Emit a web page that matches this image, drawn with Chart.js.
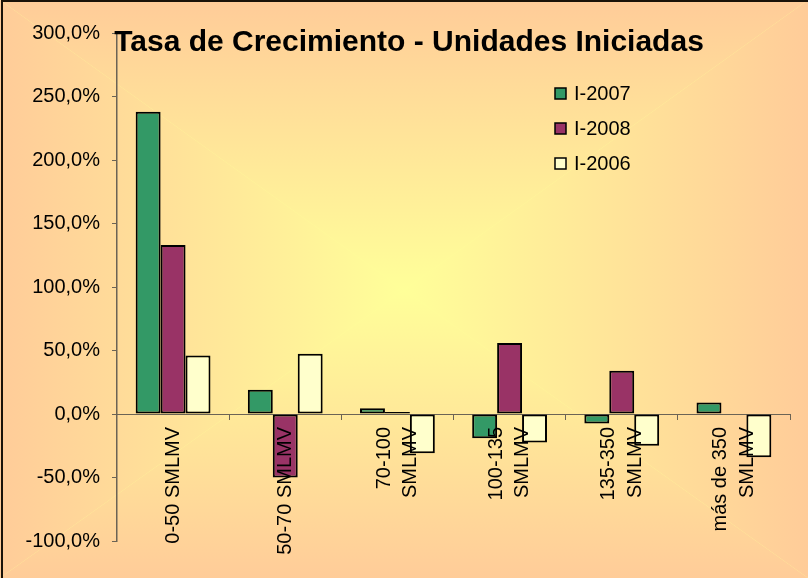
<!DOCTYPE html>
<html>
<head>
<meta charset="utf-8">
<script src="https://cdn.jsdelivr.net/npm/chart.js@4/dist/chart.umd.min.js"></script>
<style>
  html, body { margin: 0; padding: 0; background: #fff; }
</style>
</head>
<body>
<canvas id="chart" width="808" height="578"></canvas>
<script>
const categories = [
  '0-50 SMLMV',
  '50-70 SMLMV',
  ['70-100', 'SMLMV'],
  ['100-135', 'SMLMV'],
  ['135-350', 'SMLMV'],
  ['más de 350', 'SMLMV']
]
const seriesNames = ['I-2007', 'I-2008', 'I-2006']
const values2007 = [238, 19, 4.5, -19, -7.5, 9]
const values2008 = [133, -50, 1.5, 56, 34, null]
const values2006 = [46, 47.5, -31, -22.5, -25, -34]
const yTicks = { min: -100, max: 300, step: 50 }

const FONT = "'Liberation Sans', Arial, sans-serif"
const colors = ['#339966', '#993366', '#ffffcc']
const labelLineHeight = 1.33
const labelSize = 20

// Excel style "from center" gradient: four triangles meeting in the middle
const backgroundPlugin = {
  id: 'background',
  beforeDraw(chart) {
    const ctx = chart.ctx
    const W = chart.width
    const H = chart.height
    const cx = 404
    const cy = 290
    const edge = '#ffcc99'
    const mid = '#ffff99'
    ctx.save()
    ctx.fillStyle = mid
    ctx.fillRect(0, 0, W, H)
    const tri = (pts, x0, y0, x1, y1) => {
      const g = ctx.createLinearGradient(x0, y0, x1, y1)
      g.addColorStop(0, edge)
      g.addColorStop(1, mid)
      ctx.fillStyle = g
      ctx.beginPath()
      ctx.moveTo(pts[0][0], pts[0][1])
      ctx.lineTo(pts[1][0], pts[1][1])
      ctx.lineTo(cx, cy)
      ctx.closePath()
      ctx.fill()
    }
    tri([[0, 0], [W, 0]], 0, 0, 0, cy)
    tri([[0, H], [W, H]], 0, H, 0, cy)
    tri([[0, 0], [0, H]], 0, 0, cx, 0)
    tri([[W, 0], [W, H]], W, 0, cx, 0)
    // outer frame (only top and left edges are in view)
    ctx.strokeStyle = '#1a1208'
    ctx.lineWidth = 2
    ctx.beginPath()
    ctx.moveTo(2, H)
    ctx.lineTo(2, 1)
    ctx.lineTo(W, 1)
    ctx.stroke()
    ctx.restore()
  }
}

// Excel centres wrapped category labels on the category; Chart.js centres the first line
const centerLabelsPlugin = {
  id: 'centerLabels',
  afterLayout(chart) {
    const scale = chart.scales.x
    const items = scale.getLabelItems(chart.chartArea)
    const lh = labelSize * labelLineHeight
    items.forEach((item) => {
      if (Array.isArray(item.label)) {
        item.options.translation[0] -= (item.label.length - 1) * lh / 2
      }
    })
  }
}

const overlayPlugin = {
  id: 'overlay',
  afterDraw(chart) {
    const ctx = chart.ctx
    ctx.save()
    // title
    ctx.fillStyle = '#000'
    ctx.font = 'bold 30px ' + FONT
    ctx.textAlign = 'center'
    ctx.textBaseline = 'alphabetic'
    ctx.fillText('Tasa de Crecimiento - Unidades Iniciadas', 409, 51)
    // legend
    ctx.font = '20px ' + FONT
    ctx.textAlign = 'left'
    ctx.textBaseline = 'middle'
    chart.data.datasets.forEach((ds, i) => {
      const y = 94 + i * 35
      ctx.fillStyle = ds.backgroundColor
      ctx.fillRect(555, y - 6, 11, 11)
      ctx.strokeStyle = '#000'
      ctx.lineWidth = 1.5
      ctx.strokeRect(555, y - 6, 11, 11)
      ctx.fillStyle = '#000'
      ctx.fillText(ds.label, 574, y)
    })
    ctx.restore()
  }
}

const axisColor = '#6b6355'

new Chart(document.getElementById('chart').getContext('2d'), {
  type: 'bar',
  data: {
    labels: categories,
    datasets: [values2007, values2008, values2006].map((vals, i) => ({
      label: seriesNames[i],
      data: vals,
      backgroundColor: colors[i],
      borderColor: '#000',
      borderWidth: 2,
      borderSkipped: false,
      barPercentage: 1,
      categoryPercentage: 0.667
    }))
  },
  options: {
    responsive: false,
    animation: false,
    layout: { padding: { left: 0, top: 33, right: 18, bottom: 37 } },
    plugins: {
      legend: { display: false },
      tooltip: { enabled: false },
      title: { display: false }
    },
    scales: {
      x: {
        position: { y: 0 },
        grid: {
          display: true,
          drawOnChartArea: false,
          drawTicks: true,
          tickLength: 5,
          color: axisColor,
          offset: true
        },
        border: { display: true, color: axisColor, width: 1 },
        ticks: {
          z: 1, // labels sit on top of the bars, as in Excel
          autoSkip: false,
          maxRotation: 90,
          minRotation: 90,
          padding: 8,
          color: '#000',
          font: { family: FONT, size: labelSize, lineHeight: labelLineHeight }
        }
      },
      y: {
        min: yTicks.min,
        max: yTicks.max,
        afterFit(scale) { scale.width = 117 },
        grid: {
          display: true,
          drawOnChartArea: false,
          drawTicks: true,
          tickLength: 5,
          color: axisColor
        },
        border: { display: true, color: axisColor, width: 1.5 },
        ticks: {
          stepSize: yTicks.step,
          padding: 12,
          color: '#000',
          font: { family: FONT, size: 20 },
          callback: (v) => v.toFixed(1).replace('.', ',') + '%'
        }
      }
    }
  },
  plugins: [backgroundPlugin, centerLabelsPlugin, overlayPlugin]
})
</script>
</body>
</html>
